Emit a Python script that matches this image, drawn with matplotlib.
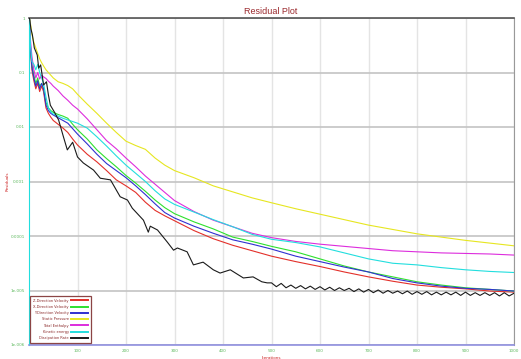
import matplotlib
matplotlib.use("Agg")
import matplotlib.pyplot as plt

# iteration grid shared by the smooth residual curves
iters = [0, 1, 3, 6, 10, 14, 18, 22, 26, 30, 35, 40, 45, 50, 60, 70, 80, 90, 100,
         120, 140, 160, 180, 200, 220, 240, 260, 280, 300, 340, 380, 420, 460,
         500, 550, 600, 650, 700, 750, 800, 850, 900, 950, 1000]

# residuals as powers of ten
z_vel = [0, 0, -0.6, -0.95, -1.15, -1.3, -1.2, -1.35, -1.25, -1.35, -1.65, -1.75, -1.82,
         -1.88, -1.95, -2.02, -2.1, -2.22, -2.33, -2.5, -2.64, -2.8, -2.97, -3.08, -3.2,
         -3.38, -3.53, -3.63, -3.72, -3.9, -4.05, -4.17, -4.27, -4.37, -4.47, -4.56,
         -4.66, -4.75, -4.83, -4.9, -4.94, -4.97, -5.01, -5.03]
x_vel = [0, 0, -0.5, -0.85, -1.05, -1.2, -1.1, -1.25, -1.2, -1.3, -1.55, -1.65, -1.7,
         -1.73, -1.77, -1.8, -1.84, -1.95, -2.05, -2.22, -2.42, -2.58, -2.73, -2.89, -3.03,
         -3.18, -3.34, -3.48, -3.59, -3.74, -3.87, -4.02, -4.1, -4.19, -4.29, -4.42,
         -4.55, -4.66, -4.75, -4.84, -4.9, -4.95, -4.98, -5.01]
y_vel = [0, 0, -0.55, -0.9, -1.1, -1.25, -1.15, -1.3, -1.2, -1.3, -1.6, -1.7, -1.75,
         -1.78, -1.83, -1.88, -1.93, -2.03, -2.13, -2.31, -2.5, -2.67, -2.8, -2.93, -3.08,
         -3.24, -3.41, -3.57, -3.67, -3.82, -3.95, -4.07, -4.15, -4.24, -4.37, -4.47,
         -4.57, -4.66, -4.78, -4.86, -4.92, -4.96, -4.98, -5.01]
pressure = [0, 0, -0.1, -0.3, -0.45, -0.55, -0.65, -0.75, -0.82, -0.88, -0.95, -1.0, -1.05,
            -1.1, -1.17, -1.2, -1.24, -1.3, -1.4, -1.58, -1.75, -1.93, -2.1, -2.26, -2.34,
            -2.41, -2.57, -2.7, -2.8, -2.93, -3.08, -3.19, -3.3, -3.39, -3.5, -3.6,
            -3.7, -3.8, -3.88, -3.96, -4.02, -4.08, -4.13, -4.18]
enthalpy = [0, 0, -0.4, -0.7, -0.95, -1.1, -1.0, -1.12, -1.05, -1.08, -1.11, -1.16, -1.2,
            -1.25, -1.33, -1.43, -1.51, -1.6, -1.67, -1.85, -2.05, -2.25, -2.4, -2.57, -2.73,
            -2.9, -3.05, -3.2, -3.35, -3.55, -3.71, -3.83, -3.95, -4.03, -4.1, -4.15,
            -4.19, -4.23, -4.27, -4.29, -4.31, -4.32, -4.33, -4.35]
kinetic = [-6.5, 0, -0.5, -0.8, -0.85, -0.95, -0.85, -1.0, -1.1, -1.2, -1.45, -1.65, -1.72,
           -1.76, -1.8, -1.84, -1.87, -1.9, -1.93, -2.02, -2.18, -2.35, -2.53, -2.7, -2.85,
           -3.0, -3.17, -3.32, -3.42, -3.56, -3.7, -3.83, -3.97, -4.06, -4.12, -4.2,
           -4.31, -4.42, -4.5, -4.53, -4.58, -4.62, -4.65, -4.67]

# dissipation rate is noisy, so it has its own denser sampling
diss_iters = [0, 1, 4, 7, 11, 17, 20, 24, 28, 30, 36, 40, 44, 52, 61, 71, 79, 90, 100,
              112, 133, 147, 168, 188, 203, 213, 236, 246, 250, 265, 285, 298, 306, 326,
              339, 359, 380, 394, 415, 442, 462, 480, 491] + list(range(500, 1001, 10))
dissipation = [0, 0, -0.2, -0.31, -0.55, -0.68, -0.92, -0.86, -1.1, -1.23, -1.17, -1.41,
               -1.6, -1.72, -1.87, -2.18, -2.42, -2.28, -2.55, -2.66, -2.79, -2.94, -2.97,
               -3.28, -3.34, -3.49, -3.71, -3.93, -3.82, -3.89, -4.11, -4.26, -4.22, -4.29,
               -4.53, -4.48, -4.62, -4.68, -4.62, -4.77, -4.75, -4.84, -4.86,
               -4.86, -4.93, -4.87, -4.95, -4.90, -4.96, -4.91, -4.97, -4.92, -4.98,
               -4.93, -4.99, -4.94, -5.00, -4.95, -5.00, -4.96, -5.02, -4.97, -5.03,
               -4.98, -5.04, -4.99, -5.05, -5.00, -5.05, -5.01, -5.06, -5.01, -5.07,
               -5.02, -5.07, -5.02, -5.08, -5.03, -5.08, -5.03, -5.08, -5.03, -5.09,
               -5.03, -5.09, -5.04, -5.09, -5.04, -5.09, -5.04, -5.10, -5.04, -5.10, -5.05]

series = [
    ("Z-Direction Velocity", iters, z_vel, "#e3302a"),
    ("X-Direction Velocity", iters, x_vel, "#2ee02e"),
    ("Y-Direction Velocity", iters, y_vel, "#3030d0"),
    ("Static Pressure", iters, pressure, "#e6e620"),
    ("Total Enthalpy", iters, enthalpy, "#dd2ddd"),
    ("Kinetic energy", iters, kinetic, "#22dede"),
    ("Dissipation Rate", diss_iters, dissipation, "#1a1a1a"),
]

y_ticks = [1, 0.1, 0.01, 0.001, 0.0001, 1e-5, 1e-6]
y_tick_labels = ["1", "0.1", "0.01", "0.001", "0.0001", "1e-005", "1e-006"]
x_ticks = [100, 200, 300, 400, 500, 600, 700, 800, 900, 1000]

fig = plt.figure(figsize=(5.21, 3.59), dpi=100)
ax = fig.add_axes([29 / 521, 14 / 359, 485 / 521, 327 / 359])

for label, xs, exps, color in series:
    ax.plot(xs, [10 ** e for e in exps], color=color, lw=0.8, label=label, zorder=3)

ax.set_yscale("log")
ax.set_xlim(0, 1000)
ax.set_ylim(1e-6, 1)
ax.set_yticks(y_ticks)
ax.set_yticklabels(y_tick_labels)
ax.minorticks_off()
ax.set_xticks(x_ticks)
ax.tick_params(length=0, labelsize=3, labelcolor="#5cb85c", pad=3)

ax.grid(axis="y", color="#c4c4c4", lw=1.2)
ax.grid(axis="x", color="#e4e4e4", lw=1.0)
ax.set_axisbelow(True)

ax.spines["top"].set_color("#555555")
ax.spines["top"].set_linewidth(1.2)
ax.spines["right"].set_color("#999999")
ax.spines["right"].set_linewidth(0.8)
ax.spines["bottom"].set_color("#9090e0")
ax.spines["bottom"].set_linewidth(1.2)
ax.spines["left"].set_color("#22dede")

ax.set_ylabel("Residuals", fontsize=3, color="#cc2222")
ax.yaxis.set_label_coords(-19 / 485, 0.5)
ax.set_xlabel("Iterations", fontsize=3, color="#cc2222", labelpad=2)
fig.text(271 / 521, 1 - 12 / 359, "Residual Plot", ha="center", va="center",
         fontsize=6.5, color="#9b2a2e", family="Liberation Sans")

leg = ax.legend(loc="lower left", bbox_to_anchor=(0.003, 0.006), borderaxespad=0,
                fontsize=2.6, markerfirst=False, handlelength=4.8, handletextpad=0.6,
                labelspacing=0.62, borderpad=0.8, fancybox=False, framealpha=1)
leg.get_frame().set_edgecolor("#8b4545")
leg.get_frame().set_linewidth(0.9)
for text in leg.get_texts():
    text.set_color("#8b2a2a")
    text.set_ha("right")
for line in leg.get_lines():
    line.set_linewidth(1.4)

fig.savefig("out.png", dpi=100)
